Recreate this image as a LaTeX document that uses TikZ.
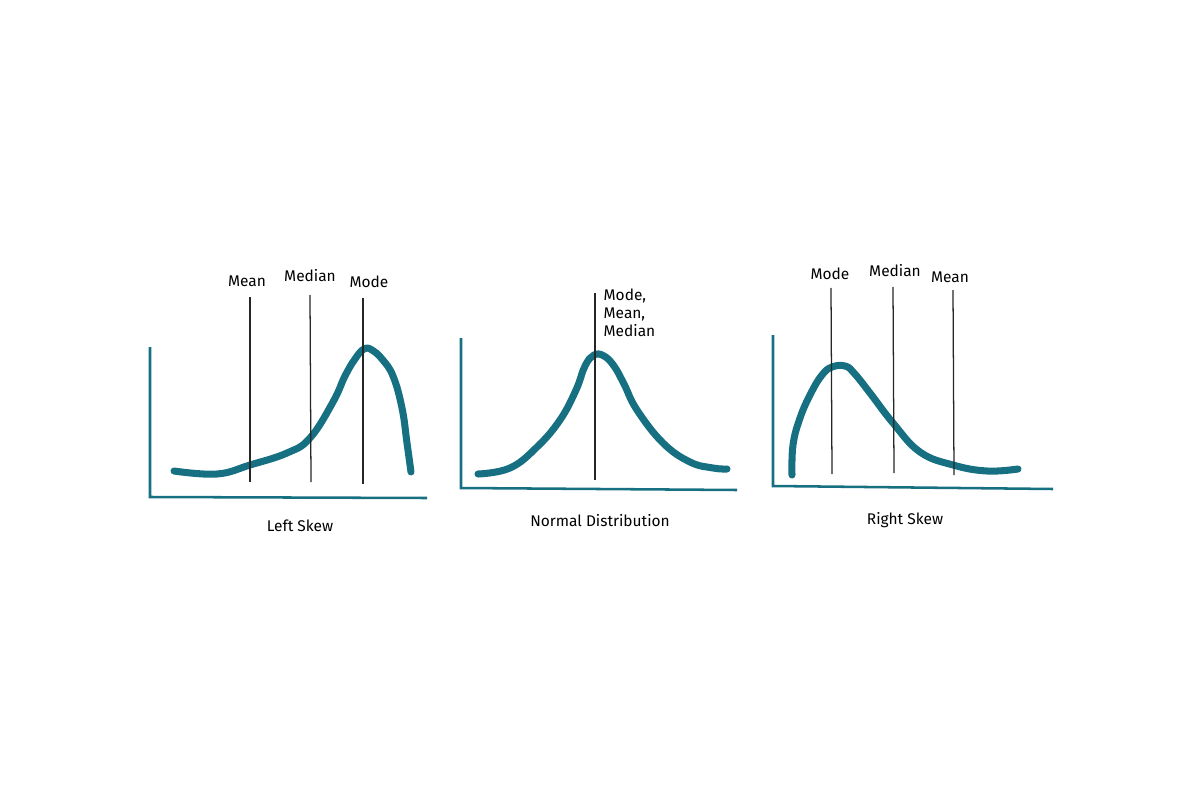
\documentclass[tikz,border=0pt]{standalone}
\usepackage{fontspec}
\setmainfont{Fira Sans}
\definecolor{teal1}{RGB}{22,112,130}
\begin{document}
\begin{tikzpicture}[x=0.025cm,y=-0.025cm,
  axis/.style={draw=teal1,line width=1.8pt},
  curve/.style={draw=teal1,line width=5pt,line cap=round,line join=round},
  marker/.style={draw=black!85,line width=0.9pt},
  lbl/.style={font=\fontsize{11}{13}\selectfont,inner sep=1pt},
  caption/.style={font=\fontsize{11}{13}\selectfont,inner sep=1pt}]
\useasboundingbox (0,0) rectangle (1200,800);
% ---------- Left skew ----------
\draw[axis] (150,347) -- (150,497) -- (427,498);
\draw[curve] plot[smooth,tension=0.7] coordinates {(174,471) (217,474) (250,465) (287,453) (310,438) (333,402) (345,376) (355,359) (364,349) (372,350) (382,359) (393,376) (402,408) (407,443) (411,472)};
\draw[marker] (250,297) -- (250,482);
\draw[marker] (310,295) -- (311,482);
\draw[marker] (363,298) -- (363,484);
\node[lbl] (l1) at (247,281) {Mean};
\node[lbl] (l2) at (310,276) {Median};
\node[lbl] (l3) at (369,282) {Mode};
\node[caption] (c1) at (300,526) {Left Skew};
% ---------- Normal ----------
\draw[axis] (461,338) -- (461,488) -- (737,490);
\draw[curve] plot[smooth,tension=0.7] coordinates {(478,474) (510,468) (537,447) (560,420) (576,390) (585,366) (594,355) (604,356) (614,366) (624,384) (637,410) (663,443) (690,462) (713,468) (727,469)};
\draw[marker] (595,293) -- (595,480);
\node[lbl,anchor=north west,align=left] (l4) at (602,287) {Mode,\\Mean,\\Median};
\node[caption] (c2) at (600,521) {Normal Distribution};
% ---------- Right skew ----------
\draw[axis] (773,335) -- (773,486) -- (1053,489);
\draw[curve] plot[smooth,tension=0.7] coordinates {(792,475) (793,445) (800,418) (811,393) (822,375) (832,367) (845,366) (854,373) (870,393) (893,423) (920,452) (953,465) (987,471) (1018,469)};
\draw[marker] (831,288) -- (832,474);
\draw[marker] (893,287) -- (894,473);
\draw[marker] (953,290) -- (954,475);
\node[lbl] (l5) at (830,274) {Mode};
\node[lbl] (l6) at (895,271) {Median};
\node[lbl] (l7) at (950,277) {Mean};
\node[caption] (c3) at (905,520) {Right Skew};
\end{tikzpicture}
\end{document}
